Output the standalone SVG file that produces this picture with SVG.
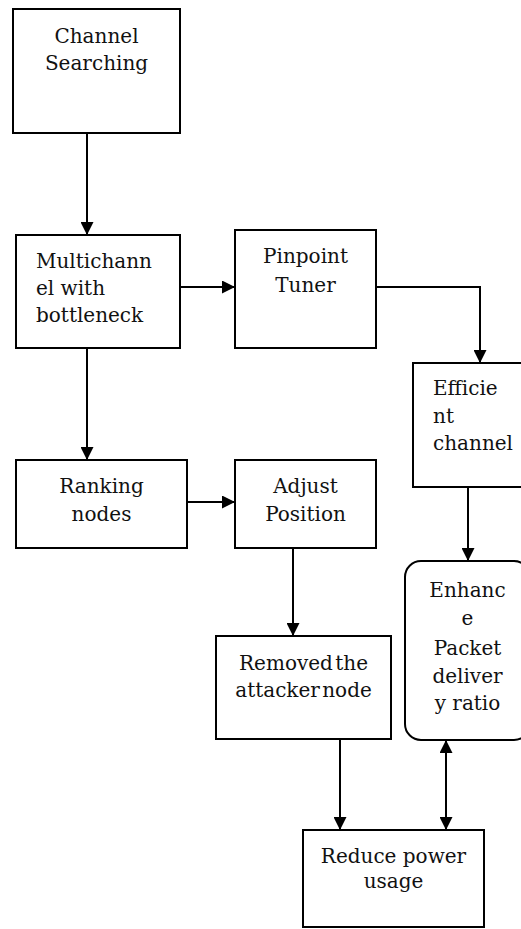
<svg xmlns="http://www.w3.org/2000/svg" width="521" height="929" viewBox="0 0 521 929">
<defs>
<marker id="ah" markerWidth="13" markerHeight="13" refX="13" refY="6.5" orient="auto-start-reverse" markerUnits="userSpaceOnUse">
<path d="M0,0 L13,6.5 L0,13 Z" fill="#000"/>
</marker>
</defs>
<style>
.box{fill:#fff;stroke:#000;stroke-width:2}
.t{font-family:"DejaVu Serif","Liberation Serif",serif;font-size:20px;fill:#111}
.c{text-anchor:middle}
.ln{fill:none;stroke:#000;stroke-width:2;marker-end:url(#ah)}
</style>
<rect width="521" height="929" fill="#fff"/>
<g id="connectors">
<path class="ln" d="M87,133 V235"/>
<path class="ln" d="M180,287 H235"/>
<path class="ln" d="M376,287 H480 V363"/>
<path class="ln" d="M87,348 V460"/>
<path class="ln" d="M187,502 H235"/>
<path class="ln" d="M468,487 V561"/>
<path class="ln" d="M293,548 V636"/>
<path class="ln" d="M340,739 V830"/>
<path class="ln" d="M446,740 V830" style="marker-start:url(#ah)"/>
</g>
<g id="channel-searching">
<rect class="box" x="13" y="9" width="167" height="124"/>
<text class="t c" x="96.5" y="43">Channel</text>
<text class="t c" x="96.5" y="70">Searching</text>
</g>
<g id="multichannel">
<rect class="box" x="16" y="235" width="164" height="113"/>
<text class="t" x="36" y="268">Multichann</text>
<text class="t" x="36" y="295">el with</text>
<text class="t" x="36" y="322">bottleneck</text>
</g>
<g id="pinpoint-tuner">
<rect class="box" x="235" y="230" width="141" height="118"/>
<text class="t c" x="305.5" y="263">Pinpoint</text>
<text class="t c" x="305.5" y="292">Tuner</text>
</g>
<g id="efficient-channel">
<rect class="box" x="413" y="363" width="120" height="124"/>
<text class="t" x="433" y="395">Efficie</text>
<text class="t" x="433" y="423">nt</text>
<text class="t" x="433" y="450">channel</text>
</g>
<g id="ranking-nodes">
<rect class="box" x="16" y="460" width="171" height="88"/>
<text class="t c" x="101.5" y="493">Ranking</text>
<text class="t c" x="101.5" y="521">nodes</text>
</g>
<g id="adjust-position">
<rect class="box" x="235" y="460" width="141" height="88"/>
<text class="t c" x="305.5" y="493">Adjust</text>
<text class="t c" x="305.5" y="521">Position</text>
</g>
<g id="enhance-pdr">
<rect class="box" x="405" y="561" width="125" height="179" rx="16" ry="16"/>
<text class="t c" x="467.5" y="597">Enhanc</text>
<text class="t c" x="467.5" y="625">e</text>
<text class="t c" x="467.5" y="655">Packet</text>
<text class="t c" x="467.5" y="683">deliver</text>
<text class="t c" x="467.5" y="710">y ratio</text>
</g>
<g id="removed-attacker">
<rect class="box" x="216" y="636" width="175" height="103"/>
<text class="t c" x="303.5" y="670" style="word-spacing:-4px">Removed the</text>
<text class="t c" x="303.5" y="697" style="word-spacing:-4px">attacker node</text>
</g>
<g id="reduce-power">
<rect class="box" x="303" y="830" width="181" height="97"/>
<text class="t c" x="393.5" y="863">Reduce power</text>
<text class="t c" x="393.5" y="888">usage</text>
</g>
</svg>
